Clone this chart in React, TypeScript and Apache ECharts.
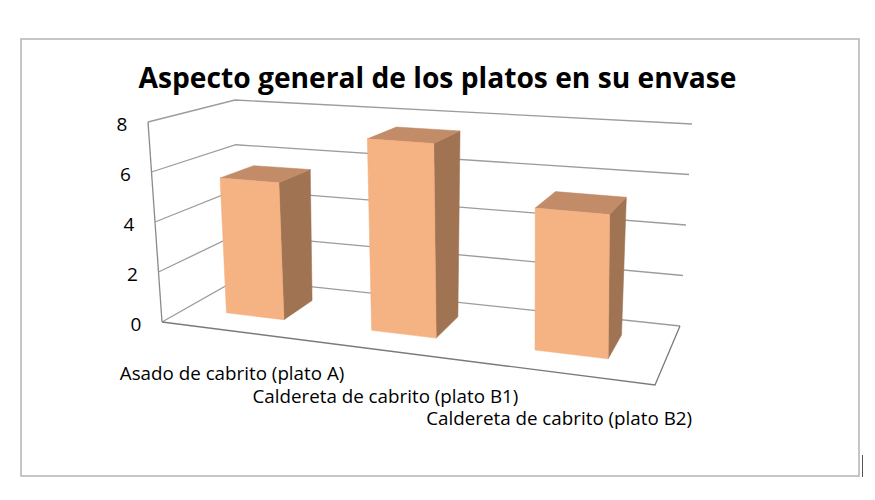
import React, { useEffect, useRef } from "react";
import * as echarts from "echarts";

const chartTitle = "Aspecto general de los platos en su envase";
const categories = [
  "Asado de cabrito (plato A)",
  "Caldereta de cabrito (plato B1)",
  "Caldereta de cabrito (plato B2)",
];
const values = [5.5, 7.5, 5.35];
const yTicks = [0, 2, 4, 6, 8];

// ---- 3D perspective layout (positions only) ----
const FLOOR_FL = [162, 322];
const FLOOR_FR = [655, 385];
const FLOOR_BR = [680, 326];
const FLOOR_BL = [238, 279];
const HEIGHT = { FL: 200, FR: 225, BR: 202, BL: 179 };
const LEAN = { FL: -14, FR: 0, BR: 12, BL: -3 };
const BAR_FRONT = 0.3;
const BAR_BACK = 0.72;
const BAR_WIDTH = 0.41;
const LABEL_FIRST_OFFSET = 51;
const LABEL_STAGGER = 22.5;

function homography(q0: number[], q1: number[], q2: number[], q3: number[]) {
  const [x0, y0] = q0, [x1, y1] = q1, [x2, y2] = q2, [x3, y3] = q3;
  const dx1 = x1 - x2, dy1 = y1 - y2, dx2 = x3 - x2, dy2 = y3 - y2;
  const dx3 = x0 - x1 + x2 - x3, dy3 = y0 - y1 + y2 - y3;
  const den = dx1 * dy2 - dy1 * dx2;
  const g = (dx3 * dy2 - dy3 * dx2) / den;
  const h = (dx1 * dy3 - dy1 * dx3) / den;
  const a = x1 - x0 + g * x1, b = x3 - x0 + h * x3, c = x0;
  const d = y1 - y0 + g * y1, e = y3 - y0 + h * y3, f = y0;
  return (u: number, w: number) => {
    const z = g * u + h * w + 1;
    return [(a * u + b * w + c) / z, (d * u + e * w + f) / z];
  };
}
const floorH = homography(FLOOR_FL, FLOOR_FR, FLOOR_BR, FLOOR_BL);

function bil(q: { FL: number; FR: number; BR: number; BL: number }, u: number, w: number) {
  return (1 - u) * (1 - w) * q.FL + u * (1 - w) * q.FR + u * w * q.BR + (1 - u) * w * q.BL;
}
// u: 0..1 along categories, vn: 0..1 of value range, w: 0 front .. 1 back
function proj(u: number, vn: number, w: number) {
  const f = floorH(u, w);
  return [f[0] + bil(LEAN, u, w) * vn, f[1] - bil(HEIGHT, u, w) * vn];
}

const FONT = "'Open Sans', 'Noto Sans', sans-serif";
const GRID_COLOR = "#9c9c9c";

export default function App() {
  const ref = useRef<HTMLDivElement>(null);
  useEffect(() => {
    if (!ref.current) return;
    const chart = echarts.init(ref.current, null, { renderer: "svg" });
    const yMax = yTicks[yTicks.length - 1];

    chart.setOption({
      animation: false,
      backgroundColor: "#ffffff",
      title: {
        text: chartTitle,
        left: "center",
        top: 57,
        padding: 0,
        textStyle: {
          fontFamily: FONT,
          fontWeight: "bold",
          fontSize: 28.2,
          lineHeight: 40,
          color: "#000000",
        },
      },
      graphic: [
        {
          type: "rect",
          shape: { x: 21, y: 39, width: 838, height: 437 },
          style: { fill: "none", stroke: "#b4b4b4", lineWidth: 1.5 },
          silent: true,
        },
        {
          type: "line",
          shape: { x1: 862.5, y1: 455, x2: 862.5, y2: 477 },
          style: { stroke: "#555555", lineWidth: 1 },
          silent: true,
        },
      ],
      grid: { left: 100, top: 100, width: 600, height: 200 },
      xAxis: { type: "category", data: categories, show: false },
      yAxis: { type: "value", min: 0, max: yMax, interval: 2, show: false },
      series: [
        {
          type: "custom",
          name: "walls",
          silent: true,
          clip: false,
          data: yTicks.map((t) => [0, t]),
          encode: { x: 0, y: 1 },
          renderItem: (params: any, api: any) => {
            const cs = params.coordSys;
            const t = api.value(1);
            const pt = api.coord([0, t]);
            const vn = (cs.y + cs.height - pt[1]) / cs.height;
            const a = proj(0, vn, 0);
            const b = proj(0, vn, 1);
            const c = proj(1, vn, 1);
            return {
              type: "group",
              children: [
                {
                  type: "polyline",
                  shape: { points: [a, b, c] },
                  style: { stroke: GRID_COLOR, lineWidth: 1.3, fill: null },
                },
                {
                  type: "text",
                  style: {
                    text: String(t),
                    x: a[0] - 26,
                    y: a[1] + 2,
                    align: "center",
                    verticalAlign: "middle",
                    fontSize: 19,
                    fontFamily: FONT,
                    fill: "#000000",
                  },
                },
              ],
            };
          },
        },
        {
          type: "custom",
          name: "frame",
          silent: true,
          clip: false,
          data: [[0, yMax]],
          encode: { x: 0, y: 1 },
          renderItem: (params: any, api: any) => {
            const cs = params.coordSys;
            const top = api.coord([0, api.value(1)]);
            const vn = (cs.y + cs.height - top[1]) / cs.height;
            return {
              type: "group",
              children: [
                {
                  type: "polyline",
                  shape: { points: [proj(0, 0, 0), proj(0, vn, 0)] },
                  style: { stroke: "#8a8a8a", lineWidth: 1.3, fill: null },
                },
                {
                  type: "polyline",
                  shape: { points: [proj(0, 0, 0), proj(1, 0, 0), proj(1, 0, 1)] },
                  style: { stroke: "#7a7a7a", lineWidth: 1.3, fill: null },
                },
              ],
            };
          },
        },
        {
          type: "custom",
          name: "Aspecto general",
          silent: true,
          clip: false,
          data: values.map((v, i) => [i, v]),
          encode: { x: 0, y: 1 },
          renderItem: (params: any, api: any) => {
            const cs = params.coordSys;
            const pt = api.coord([api.value(0), api.value(1)]);
            const base = api.coord([api.value(0), 0]);
            const band = api.size([1, 0])[0] / cs.width;
            const u = (pt[0] - cs.x) / cs.width;
            const vn = (base[1] - pt[1]) / cs.height;
            const u0 = u - (band * BAR_WIDTH) / 2;
            const u1 = u + (band * BAR_WIDTH) / 2;
            const w0 = BAR_FRONT, w1 = BAR_BACK;
            return {
              type: "group",
              children: [
                {
                  type: "polygon",
                  shape: { points: [proj(u1, 0, w0), proj(u1, 0, w1), proj(u1, vn, w1), proj(u1, vn, w0)] },
                  style: { fill: "#A07453", stroke: "#9a6e4e", lineWidth: 0.5 },
                },
                {
                  type: "polygon",
                  shape: { points: [proj(u0, vn, w0), proj(u1, vn, w0), proj(u1, vn, w1), proj(u0, vn, w1)] },
                  style: { fill: "#C28C68", stroke: "#bd8763", lineWidth: 0.5 },
                },
                {
                  type: "polygon",
                  shape: { points: [proj(u0, 0, w0), proj(u1, 0, w0), proj(u1, vn, w0), proj(u0, vn, w0)] },
                  style: { fill: "#F5B283", stroke: "#f0ac7c", lineWidth: 0.5 },
                },
              ],
            };
          },
        },
        {
          type: "custom",
          name: "categoryLabels",
          silent: true,
          clip: false,
          data: categories.map((c, i) => [i, 0]),
          encode: { x: 0, y: 1 },
          renderItem: (params: any, api: any) => {
            const cs = params.coordSys;
            const idx = api.value(0);
            const pt = api.coord([idx, 0]);
            const u = (pt[0] - cs.x) / cs.width;
            const p = proj(u, 0, 0);
            const y0 = proj(0, 0, 0)[1];
            return {
              type: "text",
              style: {
                text: categories[idx],
                x: p[0],
                y: y0 + LABEL_FIRST_OFFSET + idx * LABEL_STAGGER,
                align: "center",
                verticalAlign: "middle",
                fontSize: 18.8,
                lineHeight: 21,
                fontFamily: FONT,
                fill: "#000000",
              },
            };
          },
        },
      ],
    });
    return () => chart.dispose();
  }, []);

  return (
    <div
      ref={ref}
      style={{ position: "fixed", left: 0, top: 0, width: 875, height: 500, background: "#fff" }}
    />
  );
}
